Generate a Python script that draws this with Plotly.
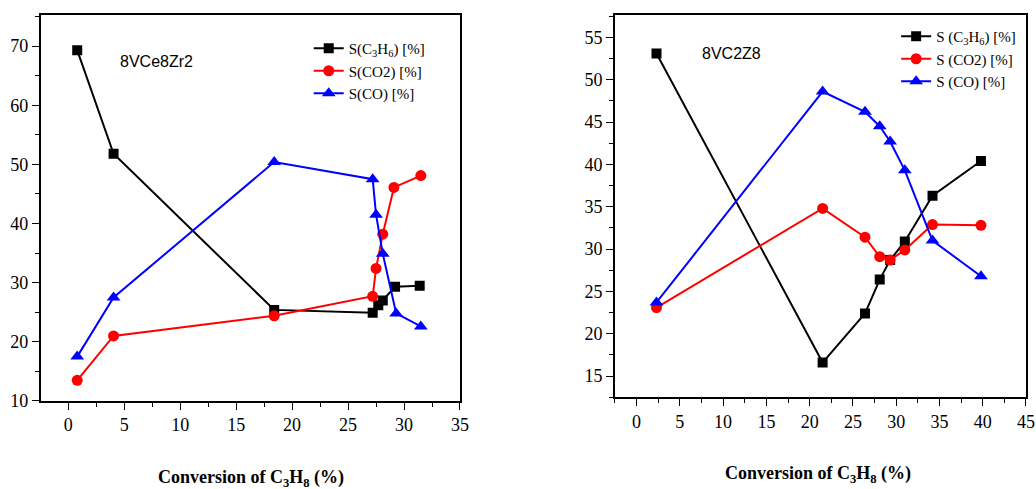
import plotly.graph_objects as go

# ---- Data: left panel (8VCe8Zr2) ----
left_x_c3h6 = [0.8, 4.05, 18.4, 27.2, 27.7, 28.1, 29.2, 31.4]
left_c3h6 = [69.3, 51.8, 25.4, 24.9, 26.2, 27.0, 29.3, 29.5]
left_x_co2 = [0.8, 4.05, 18.4, 27.2, 27.5, 28.1, 29.1, 31.5]
left_co2 = [13.5, 21.0, 24.4, 27.7, 32.4, 38.2, 46.1, 48.1]
left_x_co = [0.8, 4.05, 18.4, 27.2, 27.5, 28.1, 29.3, 31.5]
left_co = [17.5, 27.5, 50.4, 47.5, 41.5, 34.9, 24.8, 22.6]

# ---- Data: right panel (8VC2Z8) ----
right_x = [2.3, 21.5, 26.4, 28.1, 29.3, 31.0, 34.2, 39.8]
right_c3h6 = [53.1, 16.6, 22.4, 26.4, 28.7, 30.9, 36.3, 40.4]
right_co2 = [23.1, 34.8, 31.4, 29.1, 28.7, 29.9, 32.9, 32.8]
right_co = [23.7, 48.6, 46.2, 44.5, 42.7, 39.3, 31.0, 26.8]

left_names = ["S(C<sub>3</sub>H<sub>6</sub>) [%]", "S(CO2) [%]", "S(CO) [%]"]
right_names = ["S (C<sub>3</sub>H<sub>6</sub>) [%]", "S (CO2) [%]", "S (CO) [%]"]
colors = ["#000000", "#ff0000", "#0000ff"]
symbols = ["square", "circle", "triangle-up"]
msizes = [10, 11, 12]

fig = go.Figure()

left_sets = [(left_x_c3h6, left_c3h6), (left_x_co2, left_co2), (left_x_co, left_co)]
for i, (xs, ys) in enumerate(left_sets):
    fig.add_trace(go.Scatter(x=xs, y=ys, mode="lines+markers", name=left_names[i],
                             line=dict(color=colors[i], width=2),
                             marker=dict(symbol=symbols[i], size=msizes[i], color=colors[i]),
                             xaxis="x", yaxis="y", legend="legend"))
for i, ys in enumerate([right_c3h6, right_co2, right_co]):
    fig.add_trace(go.Scatter(x=right_x, y=ys, mode="lines+markers", name=right_names[i],
                             line=dict(color=colors[i], width=2),
                             marker=dict(symbol=symbols[i], size=msizes[i], color=colors[i]),
                             xaxis="x2", yaxis="y2", legend="legend2"))

tickfont = dict(family="Liberation Serif", size=18, color="black")
axis_common = dict(showline=True, linecolor="black", linewidth=1.5, mirror=True,
                   ticks="outside", ticklen=7, tickwidth=1.2, tickcolor="black",
                   showgrid=False, zeroline=False, tickfont=tickfont, automargin=False)

fig.update_layout(
    width=1036, height=489,
    margin=dict(l=0, r=0, t=0, b=0, autoexpand=False),
    paper_bgcolor="white", plot_bgcolor="white",
    xaxis=dict(domain=[0.0393, 0.444], range=[-2.46, 35], dtick=5, tick0=0,
               minor=dict(dtick=2.5, ticklen=4, ticks="outside", tickcolor="black"),
               anchor="y", **axis_common),
    yaxis=dict(domain=[0.18, 0.9687], range=[10, 75.2], dtick=10, tick0=10,
               minor=dict(dtick=5, ticklen=4, ticks="outside", tickcolor="black"),
               anchor="x", **axis_common),
    xaxis2=dict(domain=[0.5936, 0.9903], range=[-2.5, 45], dtick=5, tick0=0,
                minor=dict(dtick=2.5, ticklen=4, ticks="outside", tickcolor="black"),
                anchor="y2", **axis_common),
    yaxis2=dict(domain=[0.1875, 0.9687], range=[12.5, 57.6], dtick=5, tick0=15,
                minor=dict(dtick=2.5, ticklen=4, ticks="outside", tickcolor="black"),
                anchor="x2", **axis_common),
    legend=dict(x=0.298, y=1 - 32 / 489, xanchor="left", yanchor="top",
                bgcolor="rgba(0,0,0,0)", font=dict(family="Liberation Serif", size=15, color="black"),
                tracegroupgap=0, itemwidth=30),
    legend2=dict(x=0.865, y=1 - 20 / 489, xanchor="left", yanchor="top",
                 bgcolor="rgba(0,0,0,0)", font=dict(family="Liberation Serif", size=15, color="black"),
                 tracegroupgap=0, itemwidth=30),
    annotations=[
        dict(text="8VCe8Zr2", xref="x domain", yref="y domain", x=0.276, y=0.8815,
             xanchor="center", yanchor="middle",
             showarrow=False, font=dict(family="Liberation Sans", size=16, color="black")),
        dict(text="8VC2Z8", xref="x2 domain", yref="y2 domain", x=0.2835, y=0.901,
             xanchor="center", yanchor="middle",
             showarrow=False, font=dict(family="Liberation Sans", size=16, color="black")),
        dict(text="<b>Conversion of C<sub>3</sub>H<sub>8</sub> (%)</b>", xref="paper", yref="paper",
             x=251 / 1036, y=1 - 478 / 489, xanchor="center", yanchor="middle", showarrow=False,
             font=dict(family="Liberation Serif", size=18, color="black")),
        dict(text="<b>Conversion of C<sub>3</sub>H<sub>8</sub> (%)</b>", xref="paper", yref="paper",
             x=818 / 1036, y=1 - 474 / 489, xanchor="center", yanchor="middle", showarrow=False,
             font=dict(family="Liberation Serif", size=18, color="black")),
    ],
)

fig.write_html("out.html")
